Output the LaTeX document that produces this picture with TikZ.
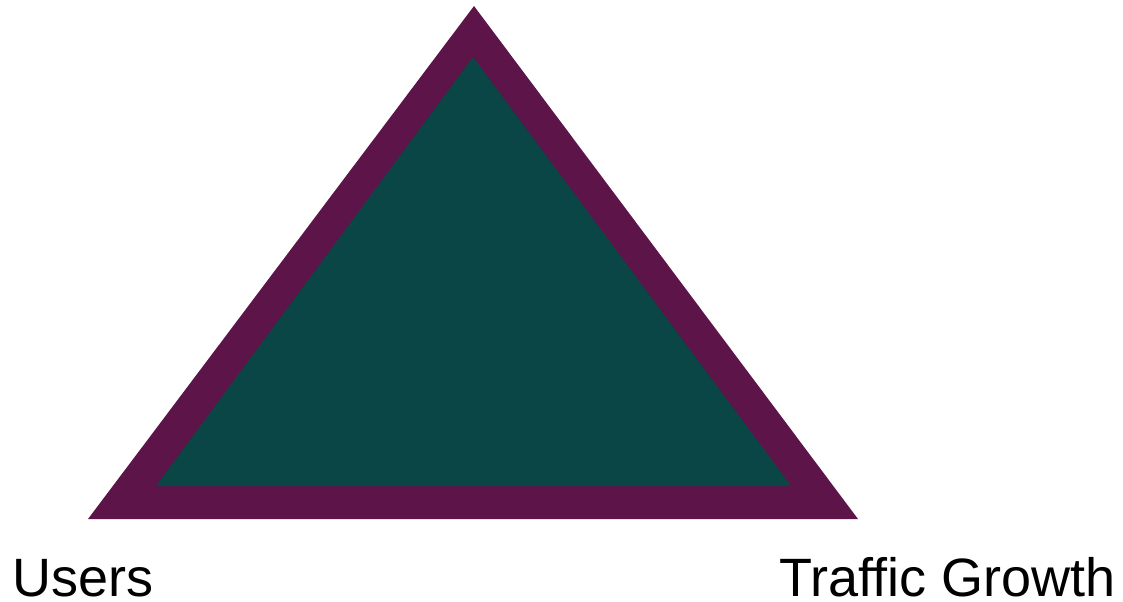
\documentclass[tikz,border=0pt]{standalone}
\usepackage{fontspec}
\setmainfont{Liberation Sans}
\usetikzlibrary{positioning}
\definecolor{rim}{RGB}{92,20,73}
\definecolor{core}{RGB}{9,70,69}

\begin{document}
\begin{tikzpicture}[x=0.75pt,y=-0.75pt,lab/.style={inner sep=0pt,font=\fontsize{40.5}{46}\selectfont}]
\useasboundingbox (0,0) rectangle (1123,601);
\coordinate (top) at (474,6); \coordinate (bl) at (88,519); \coordinate (br) at (858,519);
\coordinate (itop) at (473,57); \coordinate (ibl) at (156,486); \coordinate (ibr) at (791,486);
\fill[rim] (top)--(br)--(bl)--cycle;
\fill[core] (itop)--(ibr)--(ibl)--cycle;
\node[lab,anchor=base west] (users) at (12,596) {Users};
\node[lab,anchor=base east] (traffic) at (1116,596) {Traffic Growth};
\end{tikzpicture}
\end{document}
